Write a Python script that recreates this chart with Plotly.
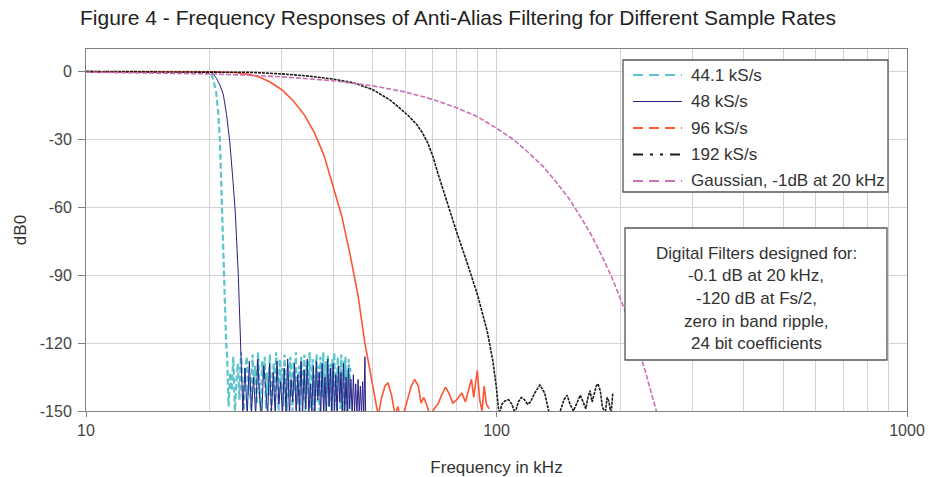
import plotly.graph_objects as go

# ---- frequency responses (kHz, dB) ----
f_44k1 = [10, 12, 14, 16, 18, 19.5, 20.0, 20.2, 20.45, 20.75, 21.0, 21.2, 21.4, 21.55, 21.7, 21.85, 21.95,
          22.05, 22.25, 22.45, 22.65, 22.85, 23.05, 23.25, 23.45, 23.65, 23.85, 24.05, 24.25, 24.45, 24.65,
          24.85, 25.05, 25.25, 25.45, 25.65, 25.85, 26.05, 26.25, 26.45, 26.65, 26.85, 27.05, 27.25, 27.45,
          27.65, 27.85, 28.05, 28.25, 28.45, 28.65, 28.85, 29.05, 29.25, 29.45, 29.65, 29.85, 30.05, 30.25,
          30.45, 30.65, 30.85, 31.05, 31.25, 31.45, 31.65, 31.85, 32.05, 32.25, 32.45, 32.65, 32.85, 33.05,
          33.25, 33.45, 33.65, 33.85, 34.05, 34.25, 34.45, 34.65, 34.85, 35.05, 35.25, 35.45, 35.65, 35.85,
          36.05, 36.25, 36.45, 36.65, 36.85, 37.05, 37.25, 37.45, 37.65, 37.85, 38.05, 38.25, 38.45, 38.65,
          38.85, 39.05, 39.25, 39.45, 39.65, 39.85, 40.05, 40.25, 40.45, 40.65, 40.85, 41.05, 41.25, 41.45,
          41.65, 41.85, 42.05, 42.25, 42.45, 42.65, 42.85, 43.05, 43.25, 43.45, 43.65, 43.85, 44.05]
db_44k1 = [0, 0, 0, 0, 0, 0, -0.1, -1, -4, -9, -18, -31, -58, -75, -90, -108, -120,
           -124, -148, -133, -141, -126, -150, -137, -129, -145, -124, -139, -150, -131, -126,
           -143, -135, -150, -125, -138, -130, -147, -124, -141, -150, -128, -136, -126, -149,
           -133, -143, -125, -150, -138, -129, -146, -124, -135, -150, -127, -140, -131, -148,
           -125, -137, -150, -129, -144, -126, -134, -150, -128, -141, -124, -147, -136, -130,
           -150, -126, -139, -145, -125, -150, -132, -128, -143, -124, -149, -137, -127, -150,
           -134, -141, -125, -146, -130, -150, -126, -138, -144, -124, -150, -133, -128, -142,
           -125, -148, -136, -129, -150, -127, -140, -124, -146, -133, -150, -126, -137, -130,
           -149, -125, -141, -150, -128, -135, -126, -147, -132, -150, -127, -139, -131]

f_48k = [10, 12, 14, 16, 18, 19.5, 20.0, 20.4, 20.8, 21.2, 21.6, 22.0, 22.4, 22.8, 23.1, 23.5, 23.8,
         24.1, 24.4, 24.7, 25.0, 25.3, 25.6, 25.9, 26.2, 26.5, 26.8, 27.1, 27.4, 27.7, 28.0, 28.3, 28.6,
         28.9, 29.2, 29.5, 29.8, 30.1, 30.4, 30.7, 31.0, 31.3, 31.6, 31.9, 32.2, 32.5, 32.8, 33.1, 33.4,
         33.7, 34.0, 34.3, 34.6, 34.9, 35.2, 35.5, 35.8, 36.1, 36.4, 36.7, 37.0, 37.3, 37.6, 37.9, 38.2,
         38.5, 38.8, 39.1, 39.4, 39.7, 40.0, 40.3, 40.6, 40.9, 41.2, 41.5, 41.8, 42.1, 42.4, 42.7, 43.0,
         43.3, 43.6, 43.9, 44.2, 44.5, 44.8, 45.1, 45.4, 45.7, 46.0, 46.3, 46.6, 46.9, 47.2, 47.5, 47.8,
         48.0]
db_48k = [0, 0, 0, 0, 0, 0, -0.1, -1, -3, -6, -10, -19, -31, -48, -62, -90, -120,
          -150, -131, -152, -128, -150, -135, -152, -127, -145, -152, -130, -140, -152, -129, -150, -133,
          -152, -128, -147, -137, -152, -131, -150, -127, -152, -136, -146, -129, -152, -134, -150, -128,
          -152, -132, -149, -127, -152, -138, -150, -130, -152, -128, -145, -133, -152, -129, -150, -135,
          -152, -127, -148, -131, -152, -129, -150, -134, -152, -130, -146, -133, -152, -129, -150, -135,
          -152, -131, -149, -136, -152, -134, -150, -138, -152, -136, -151, -139, -152, -137, -152, -126,
          -152]

f_96k = [10, 15, 20, 23, 25, 26.5, 28, 30, 32, 34, 36, 38, 40, 42, 44, 46, 47.8, 49, 50, 51,
         51.5, 52.5, 53.5, 54.4, 55.5, 56.5, 57, 57.5, 58, 59, 60.5, 62, 63.2, 64.5, 65.5, 66.5, 67.5,
         69, 70.5, 72, 73.5, 75.1, 76.5, 78.3, 80, 82.3, 84, 85.5, 86.9, 88, 89.8, 91, 92.2, 93.3, 94.5, 96]
db_96k = [0, 0, -0.1, -0.4, -1.2, -2.5, -4.5, -8, -13, -19, -27, -37, -51, -64, -81, -99, -120, -131, -139, -147,
          -152, -144, -139, -137.5, -143, -151, -150, -148, -151, -153, -146, -139, -136, -139, -146.5, -144, -147,
          -152, -149, -147, -143, -139.5, -142, -146.5, -145, -142, -146, -141, -136, -144, -132, -145, -150, -139, -147, -149]

f_192k = [10, 15, 20, 25, 30, 35, 40, 45, 50, 55, 58, 61, 64, 66, 68, 70, 72, 74, 76, 78, 80, 85, 90, 95, 98,
          100, 101.5,
          103, 105, 107, 109, 111, 113, 115, 117, 119, 121, 124, 127.6, 131, 134, 137, 140, 143, 146,
          148.6, 151, 154, 157, 160, 162.5, 165, 167, 169, 171, 173.5, 175, 176.7, 179, 181, 184, 186,
          188, 190, 192]
db_192k = [0, 0, -0.05, -0.3, -1, -2, -3.3, -5, -8, -12.5, -16, -19.5, -23.5, -27, -31.5, -37.5, -45, -52, -59, -65,
           -71, -85, -99, -115, -128, -140, -152,
           -147, -145.5, -145, -147, -151, -146, -144, -145, -147, -146, -142, -138.5, -142, -150, -153, -152, -150, -145,
           -143, -147, -150, -146, -143, -146, -149, -144, -141, -146, -142, -139, -138, -141, -148, -151, -144,
           -146, -152, -142]

f_gauss = [10, 15, 20, 25, 30, 40, 50, 60, 70, 80, 90, 100, 110, 120, 130, 140, 150, 160, 170, 180,
           190, 200, 210, 220, 230, 240, 246]
db_gauss = [-0.25, -0.56, -1.0, -1.6, -2.3, -4.0, -6.3, -9.0, -12.3, -16, -20, -25, -30, -36, -42, -49, -56, -64, -72, -81,
            -90, -100, -110, -121, -132, -144, -151]

series_names = ["44.1 kS/s", "48 kS/s", "96 kS/s", "192 kS/s", "Gaussian, -1dB at 20 kHz"]
series_x = [f_44k1, f_48k, f_96k, f_192k, f_gauss]
series_y = [db_44k1, db_48k, db_96k, db_192k, db_gauss]
colors = ["#5CC5CB", "#2A2088", "#FF5533", "#1A1A1A", "#CC6FB5"]
widths = [2.2, 1, 1.6, 1.6, 1.6]
plot_dash = ["6px,3px", "solid", "solid", "3px,1px", "5px,2px"]
key_dash = ["10px,6px", "solid", "10px,6px", "10px,7px,3px,7px,3px,7px", "10px,6px"]

y_ticks = [0, -30, -60, -90, -120, -150]
y_labels = ["0", "-30", "-60", "-90", "-120", "-150"]
x_ticks = [10, 100, 1000]
x_labels = ["10", "100", "1000"]
x_minor = [20, 30, 40, 50, 60, 70, 80, 90, 200, 300, 400, 500, 600, 700, 800, 900]

note_lines = ["Digital Filters designed for:", "-0.1 dB at 20 kHz,", "-120 dB at Fs/2,",
              "zero in band ripple,", "24 bit coefficients"]

FONT = "Liberation Sans, Arial, sans-serif"
W, H = 929, 477
L, R, T, B = 86, 22, 49, 66
PW, PH = W - L - R, H - T - B


def px(x):
    return (x - L) / PW


def py(y):
    return (H - B - y) / PH


fig = go.Figure()
for name, xs, ys, c, w, d in zip(series_names, series_x, series_y, colors, widths, plot_dash):
    fig.add_trace(go.Scatter(x=xs, y=ys, mode="lines", name=name, showlegend=False,
                             line=dict(color=c, width=w, dash=d)))

shapes = []
annotations = []

# key box
shapes.append(dict(type="rect", xref="paper", yref="paper", x0=px(623), x1=px(888), y0=py(192), y1=py(60),
                   line=dict(color="#555555", width=1.3), fillcolor="white", layer="above"))
for i, (name, c, d) in enumerate(zip(series_names, colors, key_dash)):
    yy = 75 + i * 26.5
    shapes.append(dict(type="line", xref="paper", yref="paper", x0=px(633), x1=px(682), y0=py(yy), y1=py(yy),
                       line=dict(color=c, width=2 if i != 1 else 1.2, dash=d), layer="above"))
    annotations.append(dict(xref="paper", yref="paper", x=px(689), y=py(yy), text=name, showarrow=False,
                            xanchor="left", yanchor="middle", font=dict(family=FONT, size=17, color="#333333")))

# design note box
shapes.append(dict(type="rect", xref="paper", yref="paper", x0=px(625), x1=px(887), y0=py(360), y1=py(228),
                   line=dict(color="#555555", width=1.3), fillcolor="white", layer="above"))
for i, line in enumerate(note_lines):
    annotations.append(dict(xref="paper", yref="paper", x=px(756), y=py(253 + i * 22.7), text=line,
                            showarrow=False, xanchor="center", yanchor="middle",
                            font=dict(family=FONT, size=17, color="#333333")))

axis_common = dict(showline=True, linecolor="#808080", linewidth=1, mirror=True, automargin=False,
                   gridcolor="#D2D2D8", gridwidth=1, ticks="outside", tickcolor="#808080",
                   tickfont=dict(family=FONT, size=16, color="#444444"), zeroline=False)

fig.update_layout(
    width=W, height=H,
    margin=dict(l=L, r=R, t=T, b=B, pad=0, autoexpand=False),
    paper_bgcolor="white", plot_bgcolor="white",
    shapes=shapes, annotations=annotations,
    title=dict(text="Figure 4 - Frequency Responses of Anti-Alias Filtering for Different Sample Rates",
               x=80 / W, xanchor="left", y=1 - 18 / H, yanchor="middle",
               font=dict(family=FONT, size=21, color="#222222")),
    xaxis=dict(type="log", range=[1, 3], tickmode="array", tickvals=x_ticks, ticktext=x_labels,
               ticklen=5, ticklabelstandoff=0,
               minor=dict(tickmode="array", tickvals=x_minor, showgrid=True, gridcolor="#D2D2D8", ticklen=0),
               title=dict(text="Frequency in kHz", font=dict(family=FONT, size=17, color="#333333"), standoff=24),
               **axis_common),
    yaxis=dict(range=[-150, 10], tickmode="array", tickvals=y_ticks, ticktext=y_labels,
               ticklen=7, ticklabelstandoff=3,
               title=dict(text="dB0", font=dict(family=FONT, size=17, color="#333333"), standoff=8),
               **axis_common),
)

fig.write_html("out.html")
